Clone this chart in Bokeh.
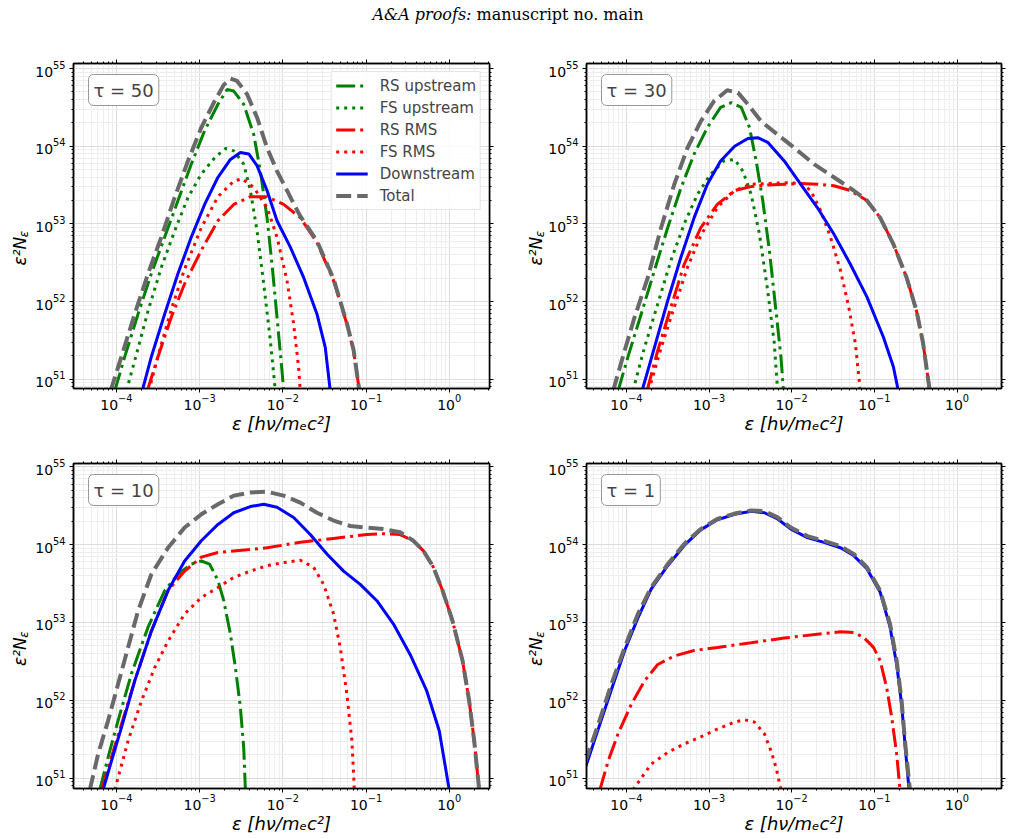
import numpy as np
from bokeh.plotting import figure
from bokeh.models import (LogAxis, FixedTicker, Label, Legend, LegendItem,
                          Range1d, CustomJSTickFormatter)
from bokeh.layouts import column, row
from bokeh.embed import file_html
from bokeh.resources import INLINE

SERIES = ["RS upstream", "FS upstream", "RS RMS", "FS RMS", "Downstream", "Total"]
TAU_LABELS = ["τ = 50", "τ = 30", "τ = 10", "τ = 1"]
X_TICKS = [1e-4, 1e-3, 1e-2, 1e-1, 1e0]
Y_TICKS = [1e51, 1e52, 1e53, 1e54, 1e55]

# values: log10(eps) and log10(eps^2 N_eps)
# ---- tau = 50 ----
t50_rsu_x = [-4.02, -3.90, -3.74, -3.58, -3.42, -3.26, -3.10, -2.94, -2.78, -2.67, -2.59, -2.47, -2.35, -2.27, -2.19, -2.13, -2.07, -2.01, -1.99]
t50_rsu_y = [50.85, 51.29, 51.84, 52.36, 52.83, 53.30, 53.77, 54.20, 54.54, 54.73, 54.71, 54.54, 54.15, 53.68, 53.08, 52.48, 51.80, 51.11, 50.85]
t50_fsu_x = [-3.88, -3.78, -3.62, -3.46, -3.30, -3.14, -2.98, -2.82, -2.69, -2.59, -2.47, -2.39, -2.31, -2.23, -2.15, -2.09]
t50_fsu_y = [50.85, 51.24, 51.88, 52.44, 52.91, 53.34, 53.64, 53.85, 53.97, 53.94, 53.77, 53.43, 52.91, 52.23, 51.50, 50.85]
t50_rsr_x = [-3.63, -3.50, -3.34, -3.18, -2.98, -2.78, -2.59, -2.39, -2.19, -1.99, -1.79, -1.59, -1.39, -1.23, -1.15, -1.08]
t50_rsr_y = [50.85, 51.29, 51.80, 52.23, 52.66, 53.04, 53.25, 53.35, 53.35, 53.25, 53.08, 52.76, 52.27, 51.71, 51.37, 50.85]
t50_fsr_x = [-3.61, -3.50, -3.34, -3.18, -2.98, -2.78, -2.59, -2.49, -2.35, -2.19, -2.07, -1.95, -1.87, -1.81, -1.79]
t50_fsr_y = [50.85, 51.30, 51.90, 52.42, 52.95, 53.35, 53.55, 53.58, 53.47, 53.21, 52.83, 52.27, 51.71, 51.15, 50.85]
t50_ds_x = [-3.69, -3.58, -3.42, -3.26, -3.10, -2.94, -2.78, -2.63, -2.51, -2.41, -2.31, -2.19, -2.07, -1.91, -1.75, -1.59, -1.49, -1.43]
t50_ds_y = [50.85, 51.29, 51.84, 52.36, 52.83, 53.25, 53.60, 53.83, 53.92, 53.90, 53.75, 53.43, 53.04, 52.70, 52.31, 51.84, 51.41, 50.85]
t50_tot_x = [-4.07, -3.94, -3.78, -3.62, -3.46, -3.30, -3.14, -2.98, -2.82, -2.71, -2.63, -2.55, -2.43, -2.31, -2.19, -2.07, -1.95, -1.87, -1.79, -1.59, -1.39, -1.23, -1.15, -1.08]
t50_tot_y = [50.85, 51.29, 51.84, 52.36, 52.83, 53.34, 53.81, 54.24, 54.58, 54.79, 54.87, 54.84, 54.67, 54.37, 53.98, 53.68, 53.43, 53.26, 53.10, 52.78, 52.29, 51.72, 51.38, 50.85]

# ---- tau = 30 ----
t30_rsu_x = [-4.10, -3.98, -3.82, -3.66, -3.50, -3.34, -3.18, -3.02, -2.86, -2.73, -2.61, -2.51, -2.43, -2.35, -2.27, -2.19, -2.13, -2.10]
t30_rsu_y = [50.85, 51.29, 51.84, 52.40, 52.95, 53.46, 53.90, 54.24, 54.50, 54.56, 54.50, 54.24, 53.81, 53.30, 52.66, 51.88, 51.29, 50.85]
t30_fsu_x = [-3.92, -3.78, -3.62, -3.46, -3.30, -3.14, -2.98, -2.82, -2.69, -2.59, -2.49, -2.39, -2.29, -2.21, -2.17]
t30_fsu_y = [50.85, 51.41, 51.97, 52.53, 53.00, 53.38, 53.64, 53.81, 53.83, 53.68, 53.38, 52.87, 52.14, 51.46, 50.85]
t30_rsr_x = [-3.75, -3.62, -3.46, -3.30, -3.10, -2.90, -2.69, -2.49, -2.29, -2.09, -1.89, -1.69, -1.49, -1.29, -1.09, -0.93, -0.77, -0.61, -0.49, -0.41, -0.33]
t30_rsr_y = [50.85, 51.37, 51.93, 52.48, 52.95, 53.25, 53.43, 53.48, 53.50, 53.51, 53.52, 53.51, 53.49, 53.43, 53.30, 53.08, 52.74, 52.31, 51.88, 51.46, 50.85]
t30_fsr_x = [-3.73, -3.58, -3.42, -3.26, -3.10, -2.90, -2.69, -2.49, -2.29, -2.09, -1.89, -1.77, -1.65, -1.53, -1.41, -1.31, -1.23, -1.17]
t30_fsr_y = [50.85, 51.40, 51.93, 52.44, 52.85, 53.21, 53.43, 53.51, 53.52, 53.53, 53.52, 53.43, 53.17, 52.83, 52.40, 51.93, 51.46, 50.85]
t30_ds_x = [-3.81, -3.66, -3.50, -3.34, -3.18, -3.02, -2.86, -2.69, -2.53, -2.41, -2.29, -2.09, -1.89, -1.69, -1.49, -1.29, -1.09, -0.89, -0.77, -0.71]
t30_ds_y = [50.85, 51.41, 52.01, 52.57, 53.08, 53.51, 53.81, 54.00, 54.10, 54.11, 54.05, 53.81, 53.51, 53.21, 52.87, 52.48, 52.06, 51.54, 51.16, 50.85]
t30_tot_x = [-4.16, -4.02, -3.90, -3.74, -3.58, -3.42, -3.26, -3.10, -2.94, -2.78, -2.65, -2.53, -2.37, -2.17, -1.97, -1.73, -1.49, -1.25, -1.09, -0.93, -0.77, -0.61, -0.49, -0.41, -0.33]
t30_tot_y = [50.85, 51.37, 51.80, 52.31, 52.95, 53.51, 53.98, 54.32, 54.58, 54.72, 54.69, 54.54, 54.32, 54.15, 53.98, 53.77, 53.60, 53.43, 53.30, 53.08, 52.74, 52.31, 51.88, 51.46, 50.85]

# ---- tau = 10 ----
t10_rsu_x = [-4.20, -4.10, -3.98, -3.82, -3.62, -3.42, -3.26, -3.10, -2.98, -2.88, -2.78, -2.71, -2.63, -2.57, -2.51, -2.47, -2.45]
t10_rsu_y = [50.85, 51.27, 51.74, 52.34, 52.94, 53.41, 53.62, 53.75, 53.79, 53.75, 53.54, 53.28, 52.85, 52.42, 51.91, 51.39, 50.85]
t10_rsr_x = [-4.18, -4.06, -3.94, -3.78, -3.58, -3.38, -3.18, -2.98, -2.78, -2.59, -2.19, -1.79, -1.39, -0.99, -0.79, -0.59, -0.43, -0.31, -0.19, -0.08, 0.04, 0.16, 0.24, 0.30, 0.36]
t10_rsr_y = [50.85, 51.27, 51.69, 52.25, 52.89, 53.41, 53.66, 53.84, 53.90, 53.92, 53.96, 54.03, 54.08, 54.13, 54.14, 54.13, 54.05, 53.92, 53.71, 53.41, 53.02, 52.51, 51.99, 51.48, 50.85]
t10_fsr_x = [-4.02, -3.86, -3.70, -3.54, -3.38, -3.18, -2.98, -2.78, -2.59, -2.39, -2.19, -1.99, -1.79, -1.63, -1.51, -1.39, -1.31, -1.23, -1.17, -1.14]
t10_fsr_y = [50.85, 51.48, 51.99, 52.42, 52.76, 53.11, 53.32, 53.45, 53.58, 53.66, 53.73, 53.77, 53.80, 53.71, 53.49, 53.11, 52.68, 52.08, 51.48, 50.85]
t10_ds_x = [-4.16, -4.06, -3.94, -3.78, -3.58, -3.38, -3.18, -2.98, -2.78, -2.59, -2.39, -2.23, -2.07, -1.87, -1.67, -1.47, -1.27, -1.07, -0.87, -0.67, -0.47, -0.27, -0.12, 0.00]
t10_ds_y = [50.85, 51.22, 51.65, 52.25, 52.89, 53.41, 53.79, 54.05, 54.26, 54.41, 54.49, 54.52, 54.48, 54.35, 54.13, 53.88, 53.66, 53.49, 53.28, 52.98, 52.59, 52.12, 51.61, 50.85]
t10_tot_x = [-4.32, -4.22, -4.10, -3.98, -3.86, -3.74, -3.58, -3.38, -3.18, -2.98, -2.78, -2.59, -2.39, -2.19, -1.99, -1.79, -1.59, -1.39, -1.19, -0.99, -0.79, -0.59, -0.43, -0.31, -0.19, -0.08, 0.04, 0.16, 0.24, 0.30, 0.36]
t10_tot_y = [50.85, 51.31, 51.74, 52.21, 52.68, 53.15, 53.62, 53.96, 54.22, 54.39, 54.52, 54.63, 54.67, 54.68, 54.63, 54.54, 54.41, 54.31, 54.24, 54.22, 54.20, 54.16, 54.05, 53.92, 53.71, 53.41, 53.02, 52.51, 51.99, 51.48, 50.85]

# ---- tau = 1 ----
t1_rsr_x = [-4.32, -4.22, -4.10, -3.94, -3.78, -3.62, -3.42, -3.18, -2.90, -2.49, -2.09, -1.69, -1.41, -1.25, -1.13, -1.01, -0.93, -0.85, -0.79, -0.73, -0.69]
t1_rsr_y = [50.85, 51.22, 51.57, 51.95, 52.25, 52.46, 52.57, 52.64, 52.68, 52.74, 52.80, 52.85, 52.88, 52.87, 52.81, 52.68, 52.51, 52.16, 51.78, 51.31, 50.85]
t1_fsr_x = [-3.92, -3.70, -3.50, -3.30, -3.10, -2.90, -2.69, -2.57, -2.45, -2.33, -2.25, -2.19, -2.13]
t1_fsr_y = [50.85, 51.18, 51.33, 51.44, 51.53, 51.63, 51.72, 51.75, 51.72, 51.57, 51.35, 51.14, 50.85]
t1_ds_x = [-4.50, -4.34, -4.18, -4.02, -3.86, -3.70, -3.50, -3.30, -3.10, -2.90, -2.69, -2.49, -2.33, -2.17, -2.01, -1.81, -1.61, -1.41, -1.25, -1.09, -0.93, -0.81, -0.73, -0.67, -0.63, -0.58]
t1_ds_y = [51.12, 51.63, 52.14, 52.64, 53.06, 53.43, 53.73, 53.99, 54.19, 54.32, 54.39, 54.43, 54.41, 54.33, 54.20, 54.09, 54.03, 53.96, 53.86, 53.69, 53.39, 52.94, 52.46, 51.95, 51.44, 50.85]
t1_tot_x = [-4.50, -4.34, -4.18, -4.02, -3.86, -3.70, -3.50, -3.30, -3.10, -2.90, -2.69, -2.49, -2.33, -2.17, -2.01, -1.81, -1.61, -1.41, -1.25, -1.09, -0.93, -0.81, -0.73, -0.67, -0.63, -0.57]
t1_tot_y = [51.20, 51.69, 52.21, 52.68, 53.11, 53.45, 53.75, 54.01, 54.20, 54.33, 54.40, 54.44, 54.43, 54.35, 54.22, 54.11, 54.05, 53.98, 53.88, 53.71, 53.41, 52.98, 52.51, 51.99, 51.48, 50.85]

PANEL_DATA = [
    {"RS upstream": (t50_rsu_x, t50_rsu_y), "FS upstream": (t50_fsu_x, t50_fsu_y),
     "RS RMS": (t50_rsr_x, t50_rsr_y), "FS RMS": (t50_fsr_x, t50_fsr_y),
     "Downstream": (t50_ds_x, t50_ds_y), "Total": (t50_tot_x, t50_tot_y)},
    {"RS upstream": (t30_rsu_x, t30_rsu_y), "FS upstream": (t30_fsu_x, t30_fsu_y),
     "RS RMS": (t30_rsr_x, t30_rsr_y), "FS RMS": (t30_fsr_x, t30_fsr_y),
     "Downstream": (t30_ds_x, t30_ds_y), "Total": (t30_tot_x, t30_tot_y)},
    {"RS upstream": (t10_rsu_x, t10_rsu_y),
     "RS RMS": (t10_rsr_x, t10_rsr_y), "FS RMS": (t10_fsr_x, t10_fsr_y),
     "Downstream": (t10_ds_x, t10_ds_y), "Total": (t10_tot_x, t10_tot_y)},
    {"RS RMS": (t1_rsr_x, t1_rsr_y), "FS RMS": (t1_fsr_x, t1_fsr_y),
     "Downstream": (t1_ds_x, t1_ds_y), "Total": (t1_tot_x, t1_tot_y)},
]

STYLE = {
    "RS upstream": dict(line_color="green", line_width=3, line_dash="19 5 3 5"),
    "FS upstream": dict(line_color="green", line_width=3, line_dash="3 5"),
    "RS RMS": dict(line_color="red", line_width=3, line_dash="19 5 3 5"),
    "FS RMS": dict(line_color="red", line_width=3, line_dash="3 5"),
    "Downstream": dict(line_color="blue", line_width=3, line_dash="solid"),
    "Total": dict(line_color="dimgray", line_width=4, line_dash="15 6"),
}

X_MINOR = [m * 10.0 ** d for d in range(-5, 1) for m in range(2, 10)]
Y_MINOR = [m * 10.0 ** d for d in range(50, 55) for m in range(2, 10)]
FONT = "DejaVu Sans"


def make_ylabel(w, h, cx):
    """Narrow strip holding the rotated y-axis label eps^2 N_eps (pixel coords, y down)."""
    f = figure(width=w, height=h, x_range=Range1d(0, w), y_range=Range1d(h, 0),
               output_backend="svg", toolbar_location=None, min_border=0,
               x_axis_location=None, y_axis_location=None,
               outline_line_color=None)
    f.grid.visible = False
    f.add_layout(Label(x=cx, y=231, text="ε²N", angle=np.pi / 2,
                       text_font=FONT, text_font_style="italic",
                       text_font_size="17px", text_align="center",
                       text_baseline="middle", text_color="black"))
    f.add_layout(Label(x=cx + 4, y=210, text="ε", angle=np.pi / 2,
                       text_font=FONT, text_font_style="italic",
                       text_font_size="12px", text_align="center",
                       text_baseline="middle", text_color="black"))
    return f


def make_panel(idx, xlim, ylim, w, h, bl, br, bt, bb, with_legend):
    p = figure(width=w, height=h, x_axis_type="log", y_axis_type="log",
               x_range=Range1d(10 ** xlim[0], 10 ** xlim[1]),
               y_range=Range1d(10 ** ylim[0], 10 ** ylim[1]),
               output_backend="svg", toolbar_location=None,
               min_border_left=bl, min_border_right=br,
               min_border_top=bt, min_border_bottom=bb)
    p.outline_line_color = "black"
    p.outline_line_width = 1.5
    p.outline_line_alpha = 1.0
    xt = FixedTicker(ticks=X_TICKS, minor_ticks=X_MINOR)
    yt = FixedTicker(ticks=Y_TICKS, minor_ticks=Y_MINOR)
    p.below[0].ticker = xt
    p.left[0].ticker = yt
    p.xgrid.ticker = xt
    p.ygrid.ticker = yt
    for g in (p.xgrid, p.ygrid):
        g.grid_line_color = "#dcdcdc"
        g.grid_line_width = 1
        g.minor_grid_line_color = "#eeeeee"
        g.minor_grid_line_width = 1

    top = LogAxis(ticker=xt, formatter=CustomJSTickFormatter(code="return ''"))
    right = LogAxis(ticker=yt, formatter=CustomJSTickFormatter(code="return ''"))
    p.add_layout(top, "above")
    p.add_layout(right, "right")
    for ax in (p.below[0], p.left[0], top, right):
        ax.major_tick_in = 0
        ax.major_tick_out = 4
        ax.minor_tick_in = 0
        ax.minor_tick_out = 2
        ax.major_tick_line_color = "black"
        ax.minor_tick_line_color = "black"
        ax.axis_line_color = "black"
        ax.axis_line_width = 1.5
        ax.major_label_text_font = FONT
        ax.major_label_text_font_size = "14px"
        ax.major_label_text_color = "black"
        ax.major_label_standoff = 4
    for ax in (top, right):
        ax.major_label_text_font_size = "2px"
        ax.major_label_standoff = 0

    xa = p.below[0]
    xa.major_label_standoff = 1
    xa.axis_label = "ε [hν/mₑc²]"
    xa.axis_label_text_font = FONT
    xa.axis_label_text_font_style = "italic"
    xa.axis_label_text_font_size = "18px"
    xa.axis_label_text_color = "black"
    xa.axis_label_standoff = 0

    rends = {}
    data = PANEL_DATA[idx]
    for name in SERIES:
        if name in data:
            lx, ly = data[name]
            rends[name] = p.line(x=np.power(10.0, lx), y=np.power(10.0, ly),
                                 **STYLE[name])

    p.add_layout(Label(x=15, y=325 - 11, x_units="screen", y_units="screen",
                       text=TAU_LABELS[idx], text_font=FONT, text_font_size="18px",
                       text_align="left", text_baseline="top",
                       border_line_color="#999999", border_line_width=1,
                       background_fill_color="white", padding=5, border_radius=5))

    if with_legend:
        leg = Legend(items=[LegendItem(label=n, renderers=[rends[n]]) for n in SERIES],
                     location="top_right", margin=8, padding=4, spacing=3,
                     label_height=19, glyph_height=19, glyph_width=32,
                     label_standoff=12, label_text_font=FONT,
                     label_text_font_size="15px",
                     border_line_color="#cccccc", border_line_width=1,
                     background_fill_color="white", background_fill_alpha=0.85)
        p.add_layout(leg)
    return p


XL_LEFT = (-4.516, 0.484)
XL_RIGHT = (-4.482, 0.538)
YL_TOP = (50.88, 55.065)
YL_BOT = (50.867, 55.043)

# top row: strip 0-32, panel 32-505 (frame 73-489); strip 505-545, panel 545-1011 (frame 585-1001)
y1 = make_ylabel(32, 400, 19)
p1 = make_panel(0, XL_LEFT, YL_TOP, 473, 400, 41, 16, 23, 52, True)
y2 = make_ylabel(40, 400, 30)
p2 = make_panel(1, XL_RIGHT, YL_TOP, 466, 400, 40, 10, 23, 52, False)
y3 = make_ylabel(32, 399, 19)
p3 = make_panel(2, XL_LEFT, YL_BOT, 473, 399, 41, 16, 23, 51, False)
y4 = make_ylabel(40, 399, 30)
p4 = make_panel(3, XL_RIGHT, YL_BOT, 466, 399, 40, 10, 23, 51, False)

head = figure(width=1011, height=40, x_range=Range1d(0, 1011), y_range=Range1d(40, 0),
              output_backend="svg", toolbar_location=None, min_border=0,
              x_axis_location=None, y_axis_location=None,
              outline_line_color=None)
head.grid.visible = False
head.add_layout(Label(x=471, y=14, text="A&A proofs:", text_font="DejaVu Serif",
                      text_font_style="italic", text_font_size="16px",
                      text_align="right", text_baseline="middle", text_color="black"))
head.add_layout(Label(x=476, y=14, text="manuscript no. main", text_font="DejaVu Serif",
                      text_font_size="16px", text_align="left",
                      text_baseline="middle", text_color="black"))

layout = column(head, row(y1, p1, y2, p2), row(y3, p3, y4, p4))
open("out.html", "w").write(file_html(layout, INLINE))
